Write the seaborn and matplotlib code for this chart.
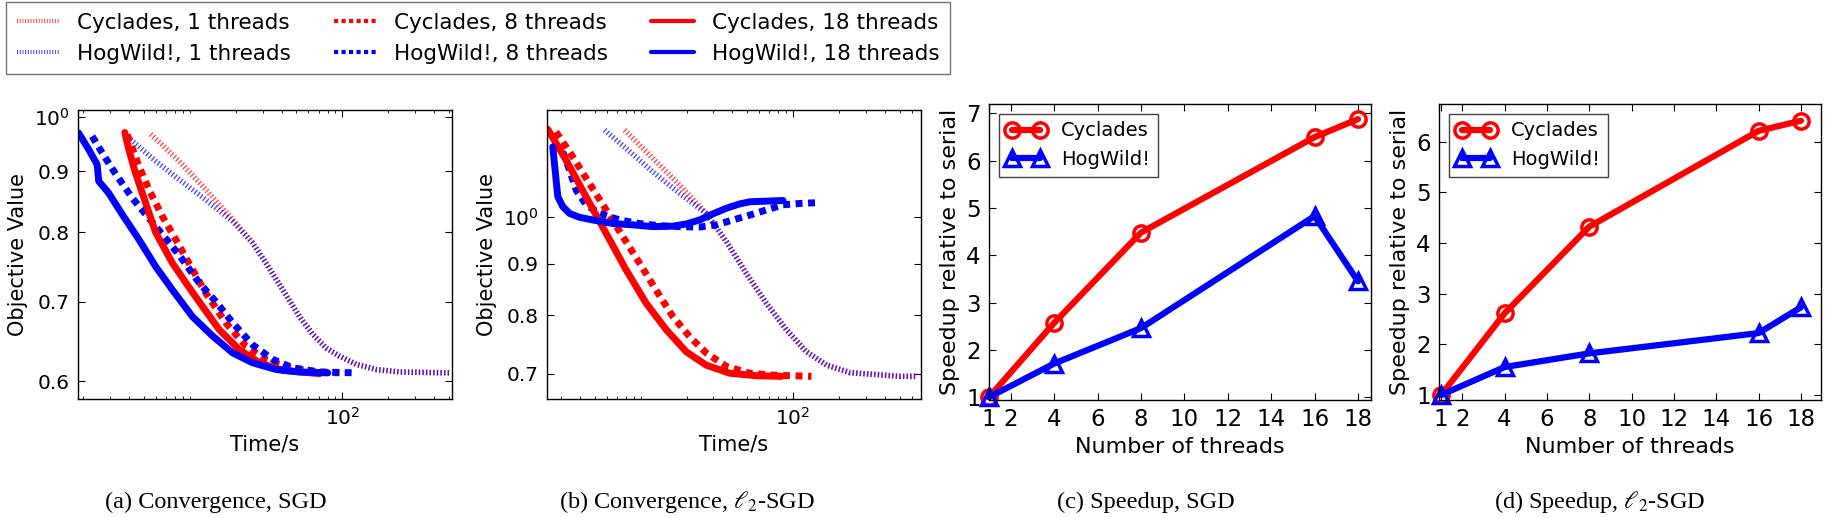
import numpy as np
import pandas as pd
import seaborn as sns
import matplotlib.pyplot as plt
from matplotlib.ticker import LogLocator, NullLocator, NullFormatter

# ---- data ----
# (a) Convergence, SGD  (time in s, objective value)
a_cyc1_t = [5.54, 8.50, 12.7, 19.1, 25.8, 31.6, 40.7, 52.4, 64.1, 78.4, 96, 124, 167, 238, 508]
a_cyc1_v = [0.967, 0.918, 0.869, 0.820, 0.784, 0.754, 0.716, 0.680, 0.657, 0.640, 0.630,
            0.620, 0.614, 0.611, 0.610]
a_hog1_t = [4.09, 5.97, 8.50, 12.7, 19.1, 25.8, 31.6, 40.7, 52.4, 64.1, 78.4, 96, 124, 167, 238, 508]
a_hog1_v = [0.957, 0.918, 0.886, 0.852, 0.817, 0.784, 0.754, 0.716, 0.680, 0.657, 0.640,
            0.630, 0.620, 0.614, 0.611, 0.610]
a_cyc8_t = [3.89, 4.64, 5.40, 6.61, 8.09, 10.4, 12.7, 17.2, 23.4, 31.6, 45.0, 67.4, 96]
a_cyc8_v = [0.966, 0.909, 0.869, 0.825, 0.789, 0.745, 0.712, 0.672, 0.642, 0.626, 0.616,
            0.611, 0.610]
a_hog8_t = [2.29, 2.66, 3.18, 4.19, 6.44, 8.50, 11.5, 14.8, 19.1, 25.8, 35.0, 47.3, 70.9, 124]
a_hog8_v = [0.963, 0.933, 0.900, 0.855, 0.800, 0.766, 0.726, 0.700, 0.672, 0.644, 0.626,
            0.616, 0.611, 0.610]
a_cyc18_t = [3.75, 3.99, 4.37, 4.88, 5.97, 7.69, 9.41, 11.5, 15.6, 21.1, 28.6, 40.7, 70.9]
a_cyc18_v = [0.970, 0.938, 0.900, 0.863, 0.800, 0.754, 0.726, 0.700, 0.663, 0.638, 0.622,
             0.613, 0.609]
a_hog18_t = [1.87, 2.18, 2.47, 2.53, 2.94, 3.61, 4.64, 5.97, 7.69, 10.4, 14.1, 19.1, 25.8,
             36.8, 52.4, 80.4]
a_hog18_v = [0.969, 0.938, 0.912, 0.883, 0.863, 0.828, 0.789, 0.749, 0.716, 0.680, 0.655,
             0.634, 0.622, 0.614, 0.611, 0.610]

# (b) Convergence, l2-SGD
b_cyc1_t = [7.81, 12.0, 18.0, 26.9, 36.5, 49.3, 66.8, 90.4, 122.5, 166, 236, 503, 648]
b_cyc1_v = [1.220, 1.144, 1.076, 1.009, 0.946, 0.880, 0.822, 0.774, 0.736, 0.714, 0.702,
            0.696, 0.696]
b_hog1_t = [5.77, 8.01, 12.0, 18.0, 26.9, 36.5, 49.3, 66.8, 90.4, 122.5, 166, 236, 503, 648]
b_hog1_v = [1.220, 1.170, 1.109, 1.056, 1.009, 0.946, 0.880, 0.822, 0.774, 0.736, 0.714,
            0.702, 0.696, 0.696]
b_cyc8_t = [2.77, 3.57, 4.60, 5.92, 7.62, 9.80, 12.6, 16.2, 20.9, 26.9, 36.5, 51.9, 73.9, 132]
b_cyc8_v = [1.215, 1.148, 1.080, 1.017, 0.957, 0.901, 0.847, 0.798, 0.762, 0.734, 0.712,
            0.701, 0.698, 0.696]
b_hog8_t = [3.07, 3.40, 3.76, 4.37, 5.35, 7.24, 9.80, 13.3, 18.0, 24.3, 31.3, 40.3, 51.9,
            66.8, 86.0, 110.7, 146]
b_hog8_v = [1.161, 1.114, 1.064, 1.029, 1.009, 0.994, 0.986, 0.981, 0.979, 0.978, 0.983,
            0.994, 1.005, 1.017, 1.029, 1.032, 1.034]
b_cyc18_t = [2.45, 3.23, 4.37, 5.92, 8.01, 10.85, 14.7, 19.9, 26.9, 38.3, 57.4, 83.9]
b_cyc18_v = [1.222, 1.139, 1.048, 0.964, 0.887, 0.822, 0.774, 0.736, 0.714, 0.701, 0.697,
             0.696]
b_hog18_t = [2.64, 2.75, 2.85, 3.07, 3.40, 3.95, 4.83, 6.55, 8.86, 12.0, 16.2, 19.9, 24.3,
             29.8, 36.5, 44.6, 51.9, 86.0]
b_hog18_v = [1.174, 1.105, 1.048, 1.025, 1.009, 1.000, 0.994, 0.986, 0.983, 0.979, 0.980,
             0.985, 0.994, 1.008, 1.021, 1.031, 1.036, 1.039]

# (c), (d) Speedup
threads = [1, 4, 8, 16, 18]
c_cyc = [1.0, 2.57, 4.48, 6.50, 6.88]
c_hog = [1.0, 1.71, 2.46, 4.83, 3.45]
d_cyc = [1.0, 2.61, 4.32, 6.21, 6.41]
d_hog = [1.0, 1.55, 1.82, 2.22, 2.73]

thread_ticks = [1, 2, 4, 6, 8, 10, 12, 14, 16, 18]
captions = ["(a) Convergence, SGD", r"(b) Convergence, $\ell_2$-SGD",
            "(c) Speedup, SGD", r"(d) Speedup, $\ell_2$-SGD"]

# ---- style ----
sns.set_style("ticks")
plt.rcParams.update({
    "font.family": ["DejaVu Sans"],
    "text.color": "black", "axes.labelcolor": "black",
    "xtick.color": "black", "ytick.color": "black",
    "axes.edgecolor": "black", "axes.linewidth": 1.0,
    "xtick.direction": "in", "ytick.direction": "in",
    "xtick.top": True, "ytick.right": True,
    "xtick.major.size": 5, "ytick.major.size": 5,
    "xtick.minor.size": 2.5, "ytick.minor.size": 2.5,
    "xtick.major.pad": 6, "ytick.major.pad": 6,
})

line_style = {
    1: dict(lw=4, linestyle=(0, (0.25, 0.4)), alpha=0.7),
    8: dict(lw=5, linestyle=(0, (1, 0.8))),
    18: dict(lw=5, linestyle="-"),
}

fig = plt.figure(figsize=(18.27, 5.18), dpi=100)
ax_a = fig.add_axes([78/1827, 1-399/518, 374/1827, 289/518])
ax_b = fig.add_axes([547/1827, 1-399/518, 374/1827, 289/518])
ax_c = fig.add_axes([989/1827, 1-400/518, 382/1827, 296/518])
ax_d = fig.add_axes([1439/1827, 1-400/518, 382/1827, 296/518])


def conv_panel(ax, curves, xlim, ylim, yticks, ylabels):
    ax.set_xscale("log")
    ax.set_yscale("log")
    for (t, v, color, n, label) in curves:
        sns.lineplot(x=t, y=v, ax=ax, color=color, errorbar=None, sort=False,
                     label=label, legend=False, **line_style[n])
    ax.set_xlim(*xlim)
    ax.set_ylim(*ylim)
    ax.set_xticks([100])
    ax.set_xticklabels([r"$10^2$"])
    ax.xaxis.set_minor_locator(LogLocator(base=10, subs=np.arange(1, 10)))
    ax.xaxis.set_minor_formatter(NullFormatter())
    ax.set_yticks(yticks)
    ax.set_yticklabels(ylabels)
    ax.yaxis.set_minor_locator(NullLocator())
    ax.tick_params(labelsize=14.5)
    ax.set_xlabel("Time/s", fontsize=15)
    ax.set_ylabel("Objective Value", fontsize=15)


conv_panel(ax_a, [
    (a_cyc1_t, a_cyc1_v, "red", 1, "Cyclades, 1 threads"),
    (a_hog1_t, a_hog1_v, "blue", 1, "HogWild!, 1 threads"),
    (a_cyc8_t, a_cyc8_v, "red", 8, "Cyclades, 8 threads"),
    (a_hog8_t, a_hog8_v, "blue", 8, "HogWild!, 8 threads"),
    (a_cyc18_t, a_cyc18_v, "red", 18, "Cyclades, 18 threads"),
    (a_hog18_t, a_hog18_v, "blue", 18, "HogWild!, 18 threads"),
], (1.85, 524), (0.58, 1.013), [0.6, 0.7, 0.8, 0.9, 1.0],
    ["0.6", "0.7", "0.8", "0.9", r"$10^0$"])

conv_panel(ax_b, [
    (b_cyc1_t, b_cyc1_v, "red", 1, "Cyclades, 1 threads"),
    (b_hog1_t, b_hog1_v, "blue", 1, "HogWild!, 1 threads"),
    (b_cyc8_t, b_cyc8_v, "red", 8, "Cyclades, 8 threads"),
    (b_hog8_t, b_hog8_v, "blue", 8, "HogWild!, 8 threads"),
    (b_cyc18_t, b_cyc18_v, "red", 18, "Cyclades, 18 threads"),
    (b_hog18_t, b_hog18_v, "blue", 18, "HogWild!, 18 threads"),
], (2.42, 692), (0.661, 1.277), [0.7, 0.8, 0.9, 1.0],
    ["0.7", "0.8", "0.9", r"$10^0$"])


def speed_panel(ax, cyc, hog, xlim, ylim, yticks):
    sns.lineplot(x=threads, y=cyc, ax=ax, color="red", lw=4.5, marker="o",
                 markersize=11, mfc="none", mec="red", mew=2.5,
                 errorbar=None, label="Cyclades", legend=False)
    sns.lineplot(x=threads, y=hog, ax=ax, color="blue", lw=4.5, marker="^",
                 markersize=12, mfc="none", mec="blue", mew=2.5,
                 errorbar=None, label="HogWild!", legend=False)
    for ln in ax.get_lines():
        ln.set_clip_on(False)
    ax.set_xlim(*xlim)
    ax.set_ylim(*ylim)
    ax.set_xticks(thread_ticks)
    ax.set_yticks(yticks)
    ax.tick_params(labelsize=16.5)
    ax.set_xlabel("Number of threads", fontsize=16)
    ax.set_ylabel("Speedup relative to serial", fontsize=16)
    leg = ax.legend(loc="upper left", fontsize=14, numpoints=2,
                    fancybox=False, framealpha=1, handlelength=2,
                    handletextpad=0.8, borderaxespad=0.5)
    leg.get_frame().set_edgecolor("0.25")


speed_panel(ax_c, c_cyc, c_hog, (1, 18.6), (0.94, 7.2), range(1, 8))
speed_panel(ax_d, d_cyc, d_hog, (0.9, 18.95), (0.9, 6.74), range(1, 7))

# shared legend on top
handles, labels = ax_a.get_legend_handles_labels()
leg = fig.legend(handles, labels, ncol=3, loc="upper left",
                 bbox_to_anchor=(6/1827, 1-2/518), fontsize=15.5,
                 fancybox=False, framealpha=1, handlelength=2,
                 handletextpad=0.8, columnspacing=2.0, labelspacing=0.5,
                 borderaxespad=0, borderpad=0.5)
leg.get_frame().set_edgecolor("0.45")
for ln in leg.get_lines():
    ln.set_linewidth(3)

# subfigure captions
for xc, cap in zip([216, 687, 1146, 1600], captions):
    fig.text(xc/1827, 1-502/518, cap, ha="center", va="center",
             fontsize=17.5, family="Liberation Serif", math_fontfamily="stix")

fig.savefig("out.png", dpi=100)
